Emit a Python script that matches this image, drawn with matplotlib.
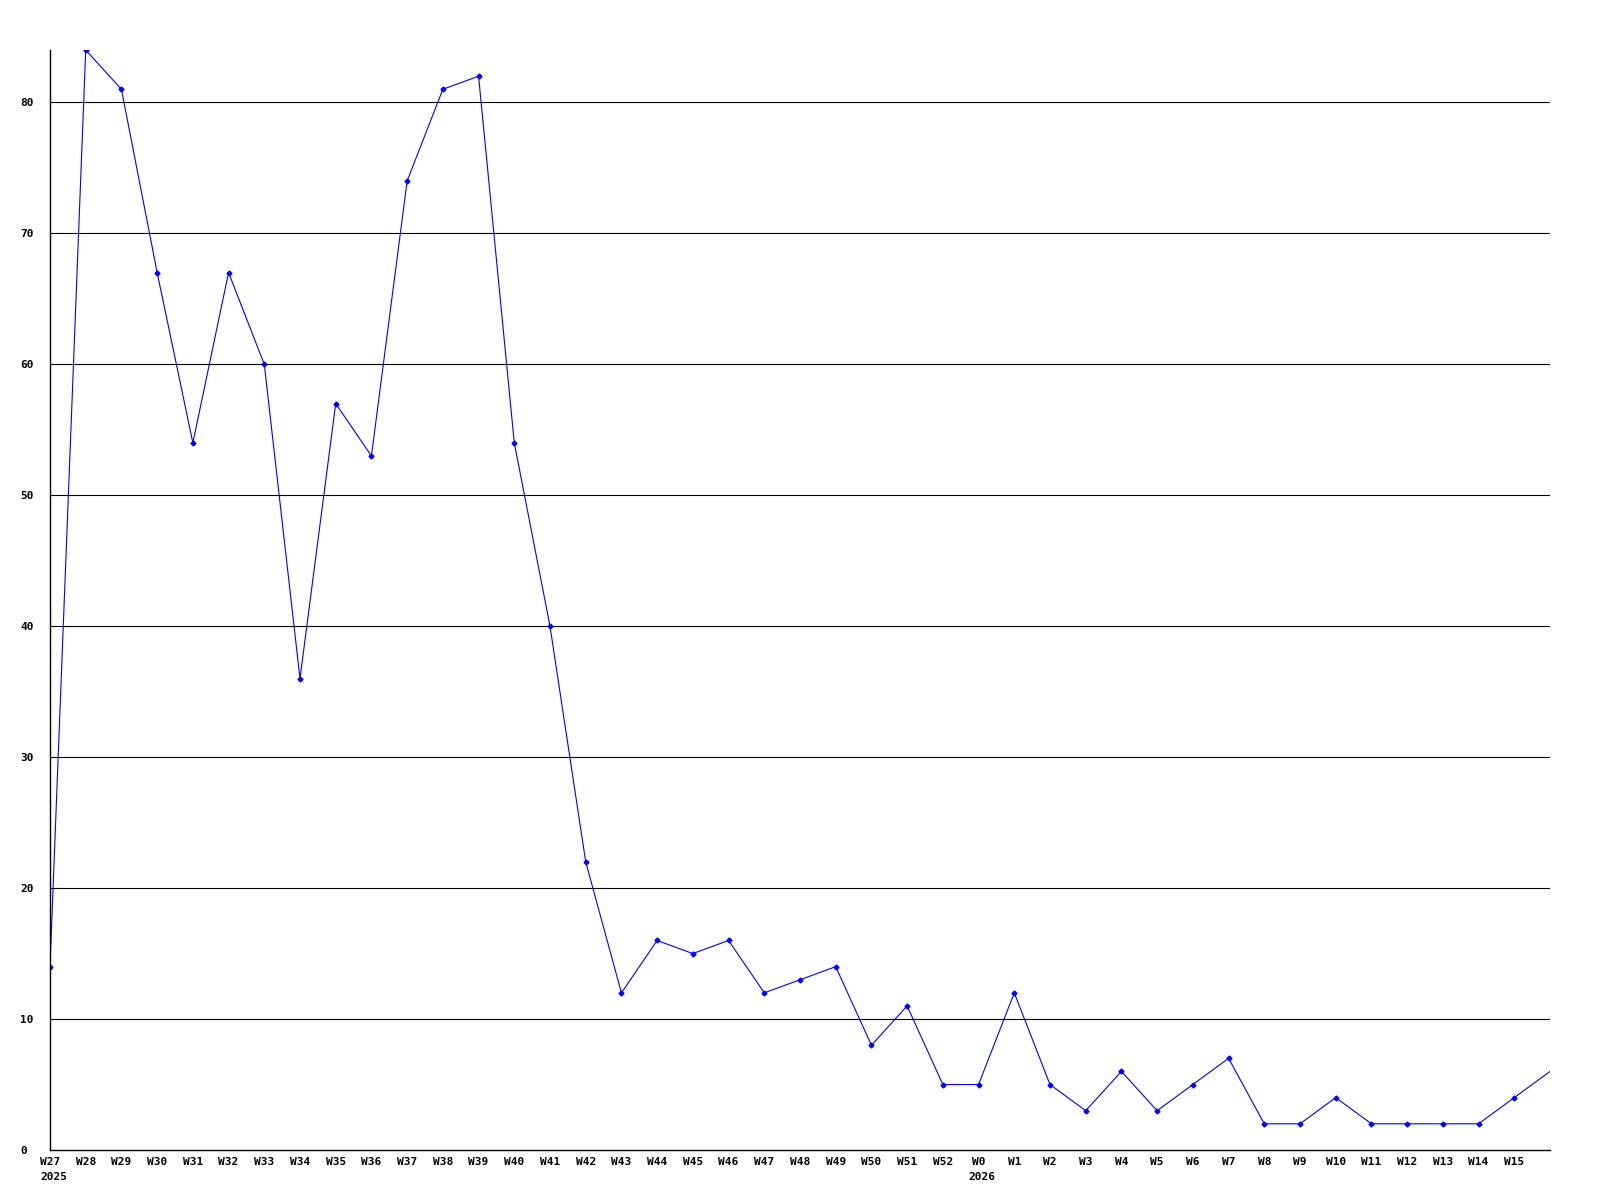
import matplotlib.pyplot as plt
import matplotlib.transforms as mtransforms

weeks = ["W27", "W28", "W29", "W30", "W31", "W32", "W33", "W34", "W35", "W36",
         "W37", "W38", "W39", "W40", "W41", "W42", "W43", "W44", "W45", "W46",
         "W47", "W48", "W49", "W50", "W51", "W52", "W0", "W1", "W2", "W3",
         "W4", "W5", "W6", "W7", "W8", "W9", "W10", "W11", "W12", "W13",
         "W14", "W15", "W16"]
counts = [14, 84, 81, 67, 54, 67, 60, 36, 57, 53,
          74, 81, 82, 54, 40, 22, 12, 16, 15, 16,
          12, 13, 14, 8, 11, 5, 5, 12, 5, 3,
          6, 3, 5, 7, 2, 2, 4, 2, 2, 2,
          2, 4, 6]
years = {"W27": "2025", "W0": "2026"}
yticks = [0, 10, 20, 30, 40, 50, 60, 70, 80]

plt.rcParams["font.family"] = "DejaVu Sans Mono"

fig = plt.figure(figsize=(16, 12), dpi=100)
ax = fig.add_axes([50 / 1600, 1 - 1150 / 1200, 1500 / 1600, 1100 / 1200])

x = list(range(len(weeks)))
# last week sits on the right edge, no marker there
ax.plot(x, counts, color="#0000ff", linewidth=0.8, marker="D", markersize=2.5,
        markevery=list(range(len(weeks) - 1)))

ax.set_xlim(0, len(weeks) - 1)
ax.set_ylim(0, 84)

for y in yticks[1:]:
    ax.axhline(y, color="black", linewidth=0.8, zorder=0)

for side in ["top", "right"]:
    ax.spines[side].set_visible(False)
for side in ["left", "bottom"]:
    ax.spines[side].set_color("black")
    ax.spines[side].set_linewidth(1.0)

ax.set_xticks(x[:-1])
ax.set_xticklabels(weeks[:-1], fontsize=8, fontweight="bold")
ax.set_yticks(yticks)
ax.set_yticklabels([str(v) for v in yticks], fontsize=8, fontweight="bold")
ax.tick_params(axis="both", length=0)
ax.tick_params(axis="x", pad=5)
ax.tick_params(axis="y", pad=21.6)
for lab in ax.get_yticklabels():
    lab.set_horizontalalignment("left")

trans = mtransforms.blended_transform_factory(ax.transData, ax.transAxes)
for wk, yr in years.items():
    i = weeks.index(wk)
    off = mtransforms.offset_copy(trans, fig=fig, x=-10, y=-27, units="dots")
    ax.text(i, 0, yr, transform=off, fontsize=8, fontweight="bold",
            ha="left", va="center")

fig.savefig("out.png", dpi=100)
